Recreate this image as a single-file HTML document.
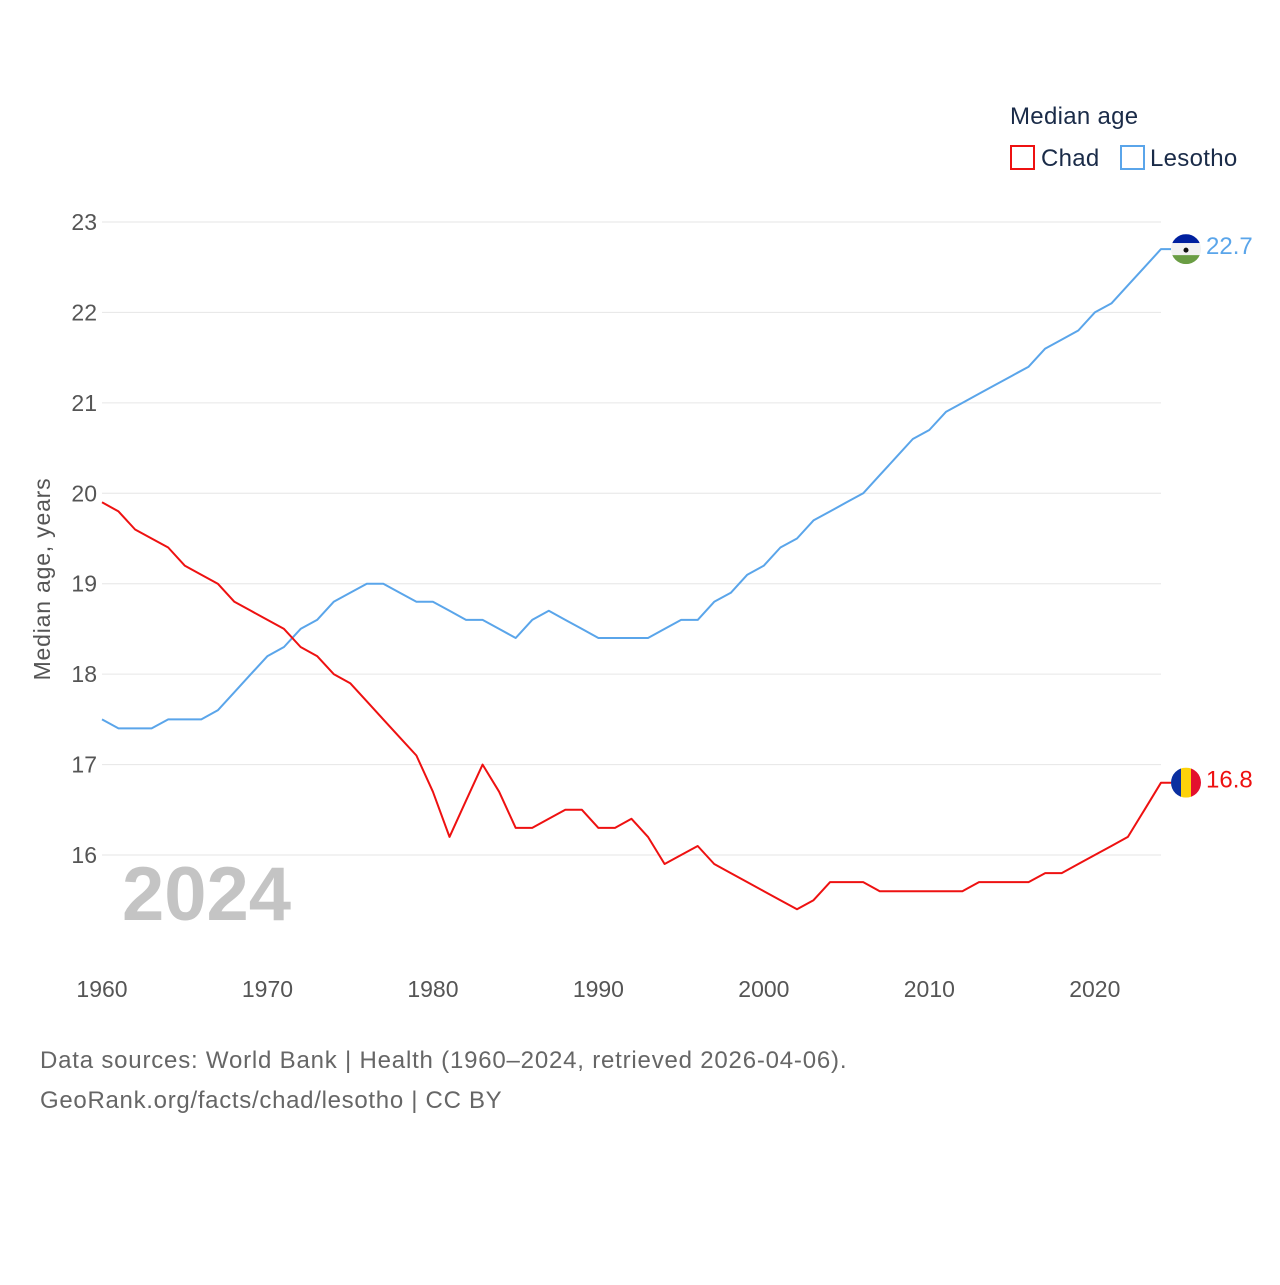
<!DOCTYPE html>
<html><head><meta charset="utf-8"><style>
body{margin:0;background:#fff;font-family:"Liberation Sans",sans-serif;}
svg text{font-family:"Liberation Sans",sans-serif;}
</style></head><body>
<svg id="c" width="1280" height="1280" xmlns="http://www.w3.org/2000/svg">
<text x="1010" y="124" font-size="24" letter-spacing="0.3" fill="#1a2b48">Median age</text>
<rect x="1011" y="146" width="23" height="23" fill="none" stroke="#ee1111" stroke-width="2"/>
<text x="1041" y="166" font-size="24" letter-spacing="0.3" fill="#1a2b48">Chad</text>
<rect x="1121" y="146" width="23" height="23" fill="none" stroke="#5aa5ea" stroke-width="2"/>
<text x="1150" y="166" font-size="24" letter-spacing="0.3" fill="#1a2b48">Lesotho</text>
<text transform="translate(50,579) rotate(-90)" text-anchor="middle" font-size="23" letter-spacing="0.8" fill="#555">Median age, years</text>
<text x="122" y="920" font-size="76" font-weight="bold" fill="#c4c4c4">2024</text>
<g id="grid"></g><g id="lines"></g>
<text x="40" y="1068" font-size="24" letter-spacing="0.8" fill="#666">Data sources: World Bank | Health (1960–2024, retrieved 2026-04-06).</text>
<text x="40" y="1108" font-size="24" letter-spacing="0.7" fill="#666">GeoRank.org/facts/chad/lesotho | CC BY</text>
</svg>
<script>
const years=[];for(let y=1960;y<=2024;y++)years.push(y);
const chad=[19.9,19.8,19.6,19.5,19.4,19.2,19.1,19.0,18.8,18.7,18.6,18.5,18.3,18.2,18.0,17.9,17.7,17.5,17.3,17.1,16.7,16.2,16.6,17.0,16.7,16.3,16.3,16.4,16.5,16.5,16.3,16.3,16.4,16.2,15.9,16.0,16.1,15.9,15.8,15.7,15.6,15.5,15.4,15.5,15.7,15.7,15.7,15.6,15.6,15.6,15.6,15.6,15.6,15.7,15.7,15.7,15.7,15.8,15.8,15.9,16.0,16.1,16.2,16.5,16.8];
const lesotho=[17.5,17.4,17.4,17.4,17.5,17.5,17.5,17.6,17.8,18.0,18.2,18.3,18.5,18.6,18.8,18.9,19.0,19.0,18.9,18.8,18.8,18.7,18.6,18.6,18.5,18.4,18.6,18.7,18.6,18.5,18.4,18.4,18.4,18.4,18.5,18.6,18.6,18.8,18.9,19.1,19.2,19.4,19.5,19.7,19.8,19.9,20.0,20.2,20.4,20.6,20.7,20.9,21.0,21.1,21.2,21.3,21.4,21.6,21.7,21.8,22.0,22.1,22.3,22.5,22.7];
const yTicks=[16,17,18,19,20,21,22,23];
const xTicks=[1960,1970,1980,1990,2000,2010,2020];
const NS="http://www.w3.org/2000/svg";
const X=y=>102+(y-1960)*(1161-102)/64;
const Y=v=>855-(v-16)*(855-222)/7;
function mk(t,a,p){const e=document.createElementNS(NS,t);for(const k in a)e.setAttribute(k,a[k]);p.appendChild(e);return e;}
const g=document.getElementById('grid'),L=document.getElementById('lines');
yTicks.forEach(v=>{
 const l=mk('line',{x1:102,x2:1161,y1:Y(v),y2:Y(v),stroke:'#e6e6e6','stroke-width':1},g);
 
 
 const t=mk('text',{x:97,y:Y(v)+8,'text-anchor':'end','font-size':23,fill:'#555'},g);t.textContent=v;
 
 
});
xTicks.forEach(v=>{
 const t=mk('text',{x:X(v),y:997,'text-anchor':'middle','font-size':23,fill:'#555'},g);t.textContent=v;
 
 
});
function series(vals,col,name){
 let d=vals.map((v,i)=>(i?'L':'M')+X(years[i]).toFixed(1)+','+Y(v).toFixed(1)).join(' ');
 d+=' L'+(X(2024)+10)+','+Y(vals[vals.length-1]).toFixed(1);
 const p=mk('path',{d:d,fill:'none',stroke:col,'stroke-width':2,'stroke-linejoin':'round'},L);
 
 
 const last=vals[vals.length-1];
 const t=mk('text',{x:1206,y:Y(last)+5,'font-size':24,fill:col},L);t.textContent=last.toFixed(1);
 
 
 return Y(last);
}
const yl=series(lesotho,'#5aa5ea','lesotho');
const yc=series(chad,'#ee1111','chad');
const defs=mk('defs',{},L);
const c1=mk('clipPath',{id:'cl'},defs);mk('circle',{cx:1186,cy:yl,r:15},c1);
const c2=mk('clipPath',{id:'cc'},defs);mk('circle',{cx:1186,cy:yc,r:15},c2);
const fl=mk('g',{'clip-path':'url(#cl)'},L);


mk('rect',{x:1171,y:yl-15,width:30,height:9,fill:'#00209f'},fl);
mk('rect',{x:1171,y:yl-6,width:30,height:12,fill:'#f2f2f2'},fl);
mk('rect',{x:1171,y:yl+6,width:30,height:9,fill:'#6a9d44'},fl);
mk('circle',{cx:1186,cy:yl+1,r:2.5,fill:'#111'},fl);
const fc=mk('g',{'clip-path':'url(#cc)'},L);


mk('rect',{x:1171,y:yc-15,width:10,height:30,fill:'#0a2fa0'},fc);
mk('rect',{x:1181,y:yc-15,width:10,height:30,fill:'#fdd20a'},fc);
mk('rect',{x:1191,y:yc-15,width:10,height:30,fill:'#e3102e'},fc);
</script>
</body></html>
